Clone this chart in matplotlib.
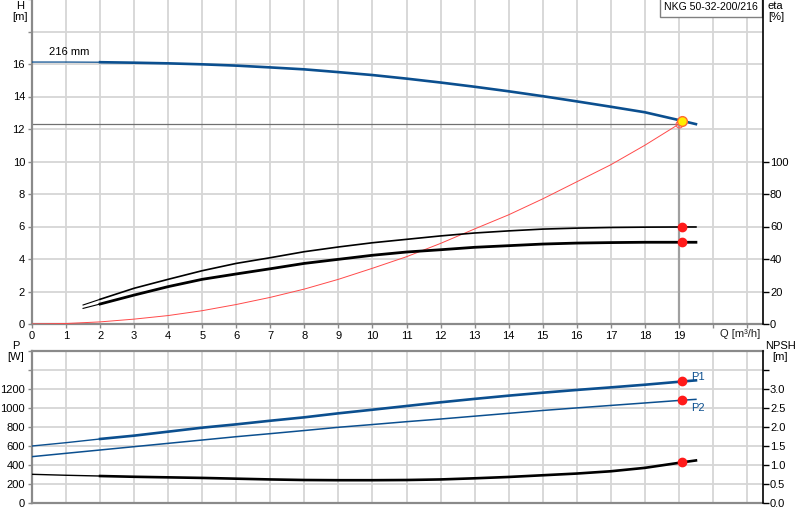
import matplotlib
matplotlib.use("Agg")
import matplotlib.pyplot as plt

plt.rcParams["font.family"] = ["Liberation Sans", "DejaVu Sans"]
plt.rcParams["font.size"] = 8

# ── Données ──────────────────────────────────────────────────────────────────

Q_H = [0, 1, 2, 3, 4, 5, 6, 7, 8, 9, 10, 11, 12, 13, 14, 15, 16, 17, 18, 19.1, 19.5]
H = [16.12, 16.12, 16.11, 16.08, 16.04, 15.98, 15.9, 15.79, 15.67, 15.5, 15.32,
     15.1, 14.86, 14.6, 14.32, 14.02, 13.7, 13.37, 13.03, 12.5, 12.3]

Q_ETA = [1.5, 2, 3, 4, 5, 6, 7, 8, 9, 10, 11, 12, 13, 14, 15, 16, 17, 18, 19.1, 19.5]
ETA_1 = [11.7, 15.2, 22.0, 27.5, 32.8, 37.3, 40.8, 44.5, 47.4, 50.0, 52.1, 54.2,
         56.0, 57.3, 58.4, 59.0, 59.4, 59.6, 59.7, 59.7]
ETA_2 = [9.6, 12.3, 17.8, 23.0, 27.5, 30.8, 34.0, 37.3, 39.8, 42.3, 44.3, 45.7,
         47.2, 48.2, 49.2, 49.8, 50.1, 50.3, 50.3, 50.3]

Q_SYS = [0, 1, 2, 3, 4, 5, 6, 7, 8, 9, 10, 11, 12, 13, 14, 15, 16, 17, 18, 19]
H_SYS = [0, 0.03, 0.13, 0.3, 0.52, 0.82, 1.2, 1.64, 2.15, 2.75, 3.43, 4.14, 4.96,
         5.85, 6.72, 7.7, 8.75, 9.8, 11.0, 12.3]

Q_P = [0, 1, 2, 3, 4, 5, 6, 7, 8, 9, 10, 11, 12, 13, 14, 15, 16, 17, 18, 19.1, 19.5]
P1 = [600, 635, 674, 709, 751, 793, 828, 866, 902, 944, 982, 1021, 1060, 1096,
      1130, 1161, 1190, 1217, 1245, 1279, 1291]
P2 = [488, 523, 558, 593, 628, 663, 698, 730, 763, 797, 826, 856, 884, 914, 944,
      974, 1001, 1027, 1053, 1082, 1091]
NPSH = [0.755, 0.73, 0.71, 0.69, 0.675, 0.66, 0.64, 0.62, 0.605, 0.6, 0.6, 0.605,
        0.62, 0.65, 0.685, 0.73, 0.775, 0.835, 0.925, 1.07, 1.12]

Q_DUTY = 19.1
H_DUTY = 12.5
Q_REQ, H_REQ = 19.0, 12.3
ETA_DUTY = [59.6, 50.3]
P_DUTY = [1279, 1082]
NPSH_DUTY = 1.07

TITLE = "NKG 50-32-200/216"

BLUE = "#0b4f8f"
GRID = "#d6d6d6"
SPINE = "#8a8a8a"
Q_MIN = 2   # début de la plage recommandée (traits plus fins avant)


def split(qs, vs, q0):
    """Coupe une courbe en partie fine (q < q0) et partie épaisse."""
    lo = [(q, v) for q, v in zip(qs, vs) if q <= q0]
    hi = [(q, v) for q, v in zip(qs, vs) if q >= q0]
    return list(zip(*lo)), list(zip(*hi))


def style_axes(ax, ymax, ystep):
    ax.set_xlim(0, 21.47)
    ax.set_ylim(0, ymax)
    ax.set_xticks(range(0, 22))
    ax.set_yticks(range(0, ymax + 1, ystep))
    ax.grid(True, color=GRID, lw=1.3, zorder=0)
    ax.set_axisbelow(True)
    for s in ("left", "bottom", "top"):
        ax.spines[s].set_color(SPINE)
        ax.spines[s].set_linewidth(1.6)
    ax.spines["right"].set_visible(False)
    ax.tick_params(axis="y", colors=SPINE, labelcolor="black", length=3, width=1,
                   labelsize=8, pad=2)


fig = plt.figure(figsize=(8, 5.2), dpi=100)

# ── Graphique H / eta ────────────────────────────────────────────────────────
ax = fig.add_axes([32 / 800, (520 - 324) / 520, 731 / 800, 325 / 520])
style_axes(ax, 20, 2)
ax.spines["top"].set_visible(False)
ax.set_yticklabels([str(v) if v <= 16 else "" for v in range(0, 21, 2)])
ax.set_xticklabels([str(q) if q <= 19 else "" for q in range(0, 22)])
ax.tick_params(axis="x", colors=SPINE, labelcolor="black", length=3, width=1,
               labelsize=8, pad=2)

(lq, lv), (hq, hv) = split(Q_H, H, Q_MIN)
ax.plot(lq, lv, color=BLUE, lw=0.9, zorder=4)
ax.plot(hq, hv, color=BLUE, lw=1.9, zorder=4)
ax.plot(Q_SYS, H_SYS, color="#ff4a4a", lw=0.7, zorder=3)
ax.plot([0, Q_REQ], [H_REQ, H_REQ], color="#707070", lw=0.9, zorder=2)
ax.plot([Q_REQ, Q_REQ], [0, H_REQ], color="#a0a0a0", lw=1.6, zorder=2)
ax.plot(Q_REQ, H_REQ, "o", ms=5, mfc="none", mec="#ff6060", mew=0.8, zorder=5)
ax.plot(Q_DUTY, H_DUTY, "o", ms=7, mfc="#ffee00", mec="#ff6a30", mew=1.0, zorder=6)
ax.text(0.5, 16.45, "216 mm", fontsize=8, va="bottom")
ax.text(21.33, 19.48, TITLE, fontsize=7.6, ha="right", va="center",
        bbox=dict(boxstyle="square,pad=0.4", fc="white", ec="#808080", lw=1))
ax.text(20.2, -0.6, "Q [m³/h]", fontsize=8, va="center", color="#202020")
fig.text(20 / 800, 1 - 1 / 520, "H\n[m]", ha="center", va="top", fontsize=8,
         linespacing=1.1)

ax_eta = ax.twinx()
ax_eta.set_ylim(0, 200)
ax_eta.set_yticks(range(0, 101, 20))
for s in ("left", "bottom", "top"):
    ax_eta.spines[s].set_visible(False)
ax_eta.spines["right"].set_linewidth(1.2)
ax_eta.tick_params(axis="y", length=4, width=1, labelsize=8, pad=1)
for vals, w in ((ETA_1, 1.2), (ETA_2, 2.0)):
    (lq, lv), (hq, hv) = split(Q_ETA, vals, Q_MIN)
    ax_eta.plot(lq, lv, color="black", lw=0.8, zorder=4)
    ax_eta.plot(hq, hv, color="black", lw=w, zorder=4)
ax_eta.plot([Q_DUTY] * 2, ETA_DUTY, "o", color="#ff1a1a", ms=6, zorder=6)
fig.text(768 / 800, 1 - 1 / 520, "eta\n[%]", ha="left", va="top", fontsize=8,
         linespacing=1.1)

# ── Graphique P / NPSH ───────────────────────────────────────────────────────
bx = fig.add_axes([32 / 800, (520 - 503) / 520, 731 / 800, 152 / 520])
style_axes(bx, 1600, 200)
bx.set_yticklabels([str(v) if v <= 1200 else "" for v in range(0, 1601, 200)])
bx.tick_params(axis="x", length=0, labelbottom=False)

(lq, lv), (hq, hv) = split(Q_P, P1, Q_MIN)
bx.plot(lq, lv, color=BLUE, lw=1.0, zorder=4)
bx.plot(hq, hv, color=BLUE, lw=1.9, zorder=4)
bx.plot(Q_P, P2, color=BLUE, lw=1.1, zorder=4)
bx.plot([Q_DUTY] * 2, P_DUTY, "o", color="#ff1a1a", ms=6, zorder=6)
bx.text(19.35, 1330, "P1", color=BLUE, fontsize=8, va="center")
bx.text(19.35, 1000, "P2", color=BLUE, fontsize=8, va="center")
fig.text(16 / 800, 1 - 341 / 520, "P\n[W]", ha="center", va="top", fontsize=8,
         linespacing=1.1)

bx_n = bx.twinx()
bx_n.set_ylim(0, 4)
bx_n.set_yticks([0, 0.5, 1, 1.5, 2, 2.5, 3, 3.5])
bx_n.set_yticklabels(["0.0", "0.5", "1.0", "1.5", "2.0", "2.5", "3.0", ""])
for s in ("left", "bottom", "top"):
    bx_n.spines[s].set_visible(False)
bx_n.spines["right"].set_linewidth(1.2)
bx_n.tick_params(axis="y", length=4, width=1, labelsize=8, pad=1)
(lq, lv), (hq, hv) = split(Q_P, NPSH, Q_MIN)
bx_n.plot(lq, lv, color="black", lw=1.0, zorder=4)
bx_n.plot(hq, hv, color="black", lw=1.9, zorder=4)
bx_n.plot(Q_DUTY, NPSH_DUTY, "o", color="#ff1a1a", ms=6, zorder=6)
fig.text(780 / 800, 1 - 341 / 520, "NPSH\n[m]", ha="center", va="top", fontsize=8,
         linespacing=1.1)

fig.savefig("out.png", dpi=100)
